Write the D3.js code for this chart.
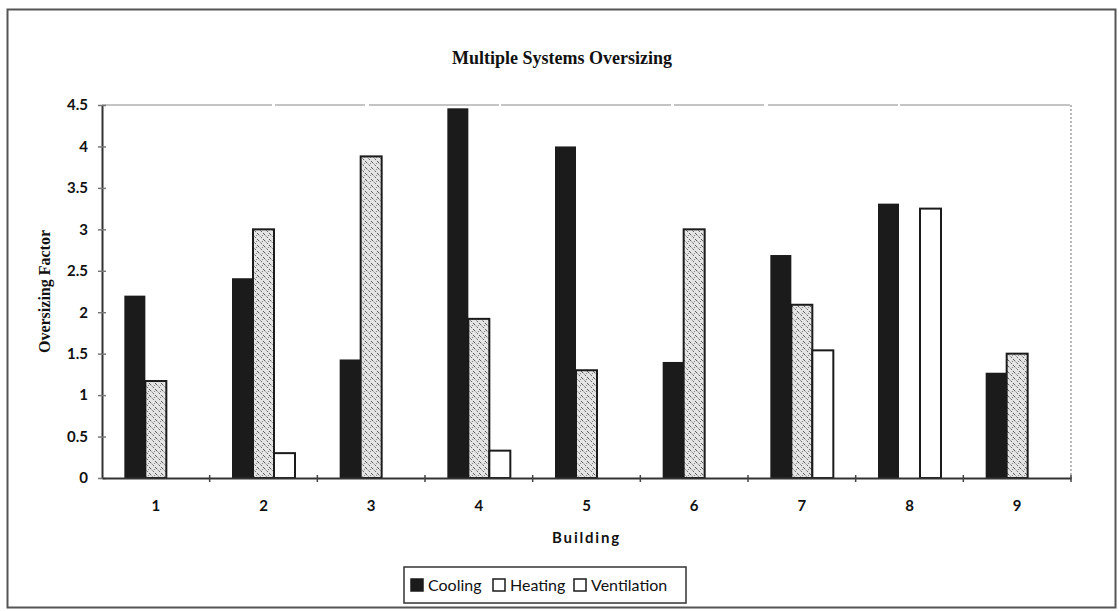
<!DOCTYPE html>
<html>
<head>
<meta charset="utf-8">
<script src="https://cdn.jsdelivr.net/npm/d3@7"></script>
<style>
  html, body { margin: 0; padding: 0; background: #fff; }
  svg { display: block; }
</style>
</head>
<body>
<svg id="chart" width="1119" height="611"></svg>
<script>
// Oversizing factors by building and system
const buildings = ["1", "2", "3", "4", "5", "6", "7", "8", "9"];
const seriesNames = ["Cooling", "Heating", "Ventilation"];
const cooling     = [2.2, 2.41, 1.43, 4.46, 4.0, 1.4, 2.69, 3.31, 1.27];
const heating     = [1.17, 3.0, 3.88, 1.92, 1.3, 3.0, 2.09, 0, 1.5];
const ventilation = [0, 0.3, 0, 0.33, 0, 0, 1.54, 3.25, 0];
const yTicks = [0, 0.5, 1, 1.5, 2, 2.5, 3, 3.5, 4, 4.5];

const seriesValues = { Cooling: cooling, Heating: heating, Ventilation: ventilation };

const svg = d3.select("#chart");
const plot = { left: 102, right: 1071, top: 105, bottom: 478 };

// Stippled diagonal hatch used for the heating bars
const defs = svg.append("defs");
const pat = defs.append("pattern")
  .attr("id", "hatch")
  .attr("patternUnits", "userSpaceOnUse")
  .attr("width", 6).attr("height", 6);
pat.append("rect").attr("width", 6).attr("height", 6).attr("fill", "#e4e4e4");
pat.append("path").attr("d", "M0,0 L6,6 M-1,5 L1,7 M5,-1 L7,1")
  .attr("stroke", "#5a5a5a").attr("stroke-width", 1).attr("stroke-dasharray", "2,1.5");
pat.append("circle").attr("cx", 4.5).attr("cy", 1.5).attr("r", 0.6).attr("fill", "#777");

// Outer frame
svg.append("rect")
  .attr("x", 7.5).attr("y", 9.5).attr("width", 1108).attr("height", 598)
  .attr("fill", "none").attr("stroke", "#555").attr("stroke-width", 2);

const x = d3.scaleBand().domain(buildings).range([plot.left, plot.right]).padding(0);
const bw = x.bandwidth();
const xSub = d3.scaleBand().domain(seriesNames).range([bw * 0.2075, bw * 0.7925]).padding(0);
const y = d3.scaleLinear().domain([0, 4.5]).range([plot.bottom, plot.top]);

// Plot area top edge (faint, mostly solid) and right edge (dotted)
svg.append("path")
  .attr("d", `M${plot.left},${plot.top} H${plot.right}`)
  .attr("fill", "none").attr("stroke", "#8a8a8a").attr("stroke-width", 1.2)
  .attr("stroke-dasharray", "170,3,90,4,130,2");
svg.append("path")
  .attr("d", `M${plot.right},${plot.top} V${plot.bottom}`)
  .attr("fill", "none").attr("stroke", "#8a8a8a").attr("stroke-width", 1.2)
  .attr("stroke-dasharray", "2,2");

// Bars
const fills = { Cooling: "#1b1b1b", Heating: "url(#hatch)", Ventilation: "#ffffff" };
const rows = [];
buildings.forEach((b, i) => {
  seriesNames.forEach(s => rows.push({ b, s, v: seriesValues[s][i] }));
});
svg.append("g").selectAll("rect")
  .data(rows.filter(d => d.v > 0))
  .join("rect")
  .attr("x", d => x(d.b) + xSub(d.s))
  .attr("y", d => y(d.v))
  .attr("width", xSub.bandwidth())
  .attr("height", d => y(0) - y(d.v))
  .attr("fill", d => fills[d.s])
  .attr("stroke", d => d.s === "Cooling" ? "none" : "#1b1b1b")
  .attr("stroke-width", 2);

// Y axis
const yAxis = svg.append("g")
  .attr("transform", `translate(${plot.left},0)`)
  .call(d3.axisLeft(y).tickValues(yTicks).tickFormat(d3.format("")).tickSize(0).tickPadding(14));
yAxis.select(".domain").attr("stroke", "#333").attr("stroke-width", 2);
yAxis.selectAll(".tick line").remove();
yAxis.selectAll(".tick").append("line")
  .attr("x1", -4).attr("x2", 4).attr("stroke", "#777").attr("stroke-width", 1.5);
yAxis.selectAll("text")
  .attr("font-family", "Lato, 'Open Sans', sans-serif")
  .attr("font-weight", "bold").attr("font-size", 15).attr("fill", "#111");

// X axis
const xAxis = svg.append("g")
  .attr("transform", `translate(0,${plot.bottom})`)
  .call(d3.axisBottom(x).tickSize(0).tickPadding(22));
xAxis.select(".domain").attr("stroke", "#333").attr("stroke-width", 2);
xAxis.selectAll("text")
  .attr("font-family", "Lato, 'Open Sans', sans-serif")
  .attr("font-weight", "bold").attr("font-size", 15).attr("fill", "#111");
// category boundary ticks
const bounds = buildings.map(b => x(b) + bw);
xAxis.append("g").selectAll("line")
  .data(bounds)
  .join("line")
  .attr("x1", d => d).attr("x2", d => d)
  .attr("y1", -3).attr("y2", 4)
  .attr("stroke", "#444").attr("stroke-width", 1.5);

// Title
svg.append("text")
  .attr("x", 562).attr("y", 64)
  .attr("text-anchor", "middle")
  .attr("font-family", "'Liberation Serif', 'Times New Roman', serif")
  .attr("font-weight", "bold").attr("font-size", 18).attr("fill", "#111")
  .text("Multiple Systems Oversizing");

// Axis titles
svg.append("text")
  .attr("transform", `translate(50,${(plot.top + plot.bottom) / 2}) rotate(-90)`)
  .attr("text-anchor", "middle")
  .attr("font-family", "'Liberation Serif', 'Times New Roman', serif")
  .attr("font-weight", "bold").attr("font-size", 16).attr("fill", "#111")
  .text("Oversizing Factor");

svg.append("text")
  .attr("x", (plot.left + plot.right) / 2).attr("y", 543)
  .attr("text-anchor", "middle")
  .attr("font-family", "Lato, 'Open Sans', sans-serif")
  .attr("font-weight", "bold").attr("font-size", 15).attr("letter-spacing", 1.8)
  .attr("fill", "#111")
  .text("Building");

// Legend
const legend = svg.append("g");
legend.append("rect")
  .attr("x", 404).attr("y", 567).attr("width", 282).attr("height", 36)
  .attr("fill", "#fff").attr("stroke", "#333").attr("stroke-width", 1.5);
const legendX = [411, 493, 574];
const legendFill = { Cooling: "#1b1b1b", Heating: "#fff", Ventilation: "#fff" };
seriesNames.forEach((s, i) => {
  legend.append("rect")
    .attr("x", legendX[i]).attr("y", 579).attr("width", 12).attr("height", 12)
    .attr("fill", legendFill[s]).attr("stroke", "#1b1b1b").attr("stroke-width", 1.5);
  legend.append("text")
    .attr("x", legendX[i] + 17).attr("y", 591)
    .attr("font-family", "Lato, 'Open Sans', sans-serif")
    .attr("font-size", 16).attr("fill", "#111")
    .text(s);
});
</script>
</body>
</html>
